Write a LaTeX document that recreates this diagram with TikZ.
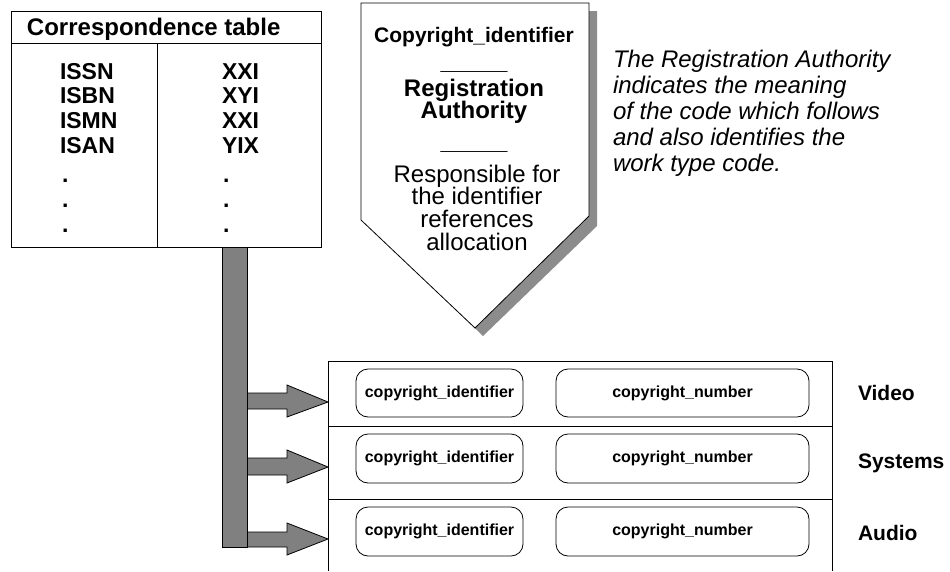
\documentclass[tikz,border=0pt]{standalone}
\usepackage{fontspec}
\setmainfont{Liberation Sans}
\definecolor{barfill}{RGB}{128,128,128}
\definecolor{shadowgray}{RGB}{140,140,140}
\begin{document}
\begin{tikzpicture}[x=1pt,y=-1pt,line width=0.8pt,
  txt/.style={inner sep=0pt,outer sep=0pt},
  tblfont/.style={font=\bfseries\fontsize{23}{25}\selectfont},
  rbox/.style={draw,rounded corners=12pt,inner sep=0pt,font=\bfseries\fontsize{16}{19}\selectfont},
  rowbox/.style={inner sep=0pt,outer sep=0pt,anchor=north west,minimum width=504pt},
  media/.style={txt,anchor=base west,font=\bfseries\fontsize{21}{24}\selectfont},
  shieldbold/.style={txt,anchor=base,font=\bfseries\fontsize{24}{26}\selectfont},
  shieldreg/.style={txt,anchor=base,font=\fontsize{24}{26}\selectfont},
  note/.style={txt,anchor=base west,font=\itshape\fontsize{24}{26}\selectfont},
  fatarrow/.style={draw=black,fill=barfill,line width=0.8pt}]
\useasboundingbox (0,0) rectangle (950,571);

% ---------- correspondence table ----------
\node[draw,anchor=north west,minimum width=310pt,minimum height=236pt,inner sep=0pt,outer sep=0pt] (tbl) at (11,11) {};
\draw (11,43) -- (321,43);
\draw (157,43) -- (157,247);
\node[txt,anchor=base west,font=\bfseries\fontsize{24}{26}\selectfont] (thead) at (27,35) {Correspondence table};
\foreach \n/\a/\b/\y in {1/ISSN/XXI/79,2/ISBN/XYI/103,3/ISMN/XXI/128,4/ISAN/YIX/153}{
  \node[txt,tblfont,anchor=base west] (l\n) at (60,\y) {\a};
  \node[txt,tblfont,anchor=base west] (r\n) at (222,\y) {\b};
}
\foreach \n/\y in {1/182,2/207,3/232}{
  \node[txt,tblfont,anchor=base west] (ld\n) at (62,\y) {.};
  \node[txt,tblfont,anchor=base west] (rd\n) at (223,\y) {.};
}

% ---------- shield ----------
\fill[shadowgray] (369,11) -- (597,11) -- (597,226) -- (483,336) -- (369,226) -- cycle;
\draw[fill=white] (361,3) -- (589,3) -- (589,216) -- (475,328) -- (361,220) -- cycle;
\coordinate (shieldtip) at (475,328);
\node[txt,anchor=base,font=\bfseries\fontsize{21}{24}\selectfont] (s1) at (474,42) {Copyright\_identifier};
\node[shieldbold] (s2) at (474,69) {\_\_\_\_\_};
\node[shieldbold] (s3) at (474,96) {Registration};
\node[shieldbold] (s4) at (474,118) {Authority};
\node[shieldbold] (s5) at (474,149) {\_\_\_\_\_};
\node[shieldreg] (s6) at (477,182) {Responsible for};
\node[shieldreg] (s7) at (477,204) {the identifier};
\node[shieldreg] (s8) at (477,227) {references};
\node[shieldreg] (s9) at (477,250) {allocation};

% ---------- note ----------
\node[note] (n1) at (613,67) {The Registration Authority};
\node[note] (n2) at (613,93) {indicates the meaning};
\node[note] (n3) at (613,119) {of the code which follows};
\node[note] (n4) at (613,145) {and also identifies the};
\node[note] (n5) at (613,171) {work type code.};

% ---------- lower frame ----------
\node[rowbox,minimum height=65pt] (row1) at (328,361) {};
\node[rowbox,minimum height=73pt] (row2) at (328,426) {};
\node[rowbox,minimum height=72pt] (row3) at (328,499) {};
\draw (328,571) -- (328,361) -- (832,361) -- (832,571);
\draw (328,426) -- (832,426);
\draw (328,499) -- (832,499);

\node[rbox,minimum width=167pt,minimum height=48pt] (id1) at (439.5,393) {copyright\_identifier};
\node[rbox,minimum width=167pt,minimum height=49pt] (id2) at (439.5,458.5) {copyright\_identifier};
\node[rbox,minimum width=167pt,minimum height=49pt] (id3) at (439.5,531.5) {copyright\_identifier};
\node[rbox,minimum width=253pt,minimum height=48pt] (num1) at (682.5,393) {copyright\_number};
\node[rbox,minimum width=253pt,minimum height=49pt] (num2) at (682.5,458.5) {copyright\_number};
\node[rbox,minimum width=253pt,minimum height=49pt] (num3) at (682.5,531.5) {copyright\_number};

\node[media] (video) at (858,400) {Video};
\node[media] (systems) at (858,468) {Systems};
\node[media] (audio) at (858,540) {Audio};

% ---------- bus bar and arrows ----------
\coordinate (bustop) at (234.5,247);
\foreach \r/\st/\sb/\ht/\hb/\tp in {row1/393/409/385/417/402,row2/458/475/450/483/467,row3/532/547/523/555/539}{
  \draw[fatarrow] (247,\st) -- (287,\st) -- (287,\ht) -- (\r.west |- 0,\tp) -- (287,\hb) -- (287,\sb) -- (247,\sb) -- cycle;
}
\draw[fatarrow] (bustop -| 222,0) rectangle (247,547);
\end{tikzpicture}
\end{document}
